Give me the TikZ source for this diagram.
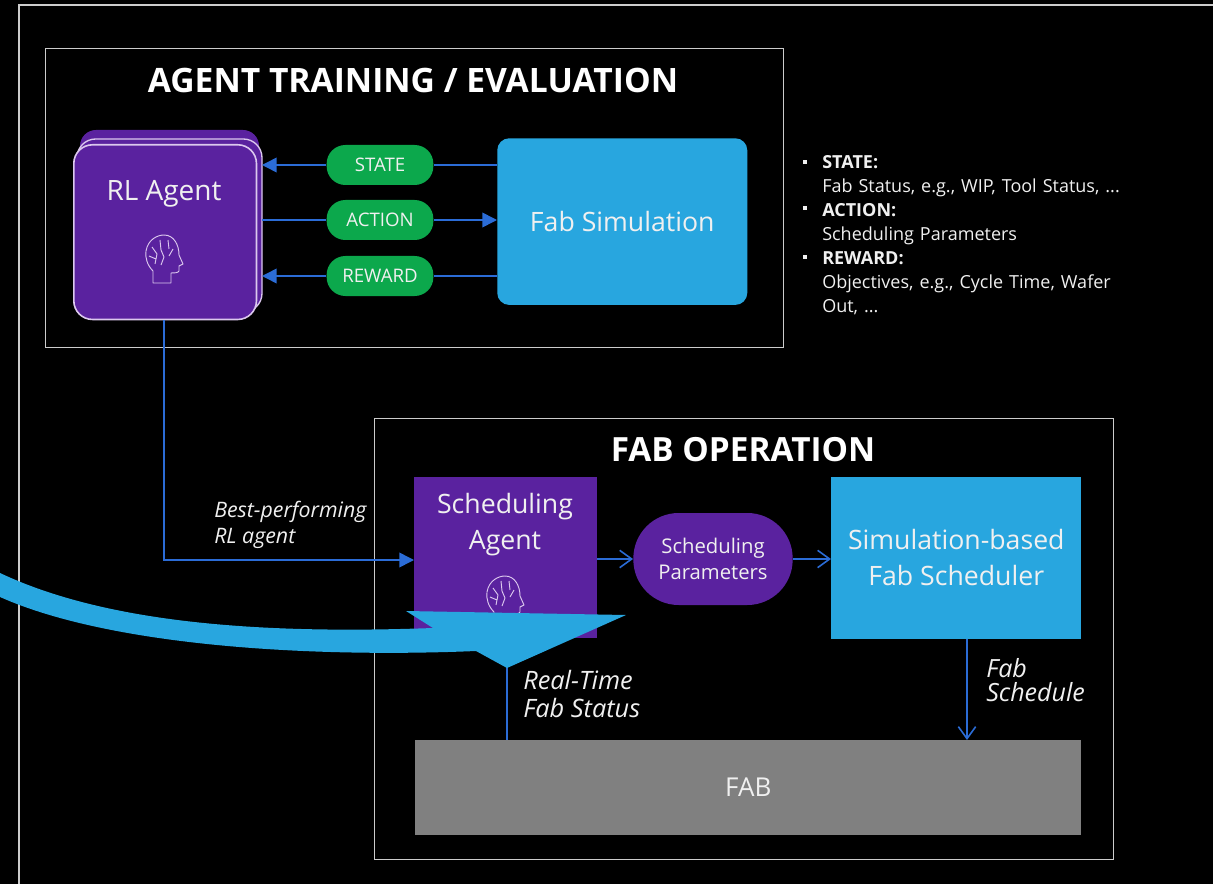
\documentclass[tikz,border=0pt]{standalone}
\usepackage{fontspec}
\setmainfont{Open Sans}
\usetikzlibrary{arrows.meta,positioning}
\definecolor{agentp}{HTML}{5A229F}
\definecolor{simblue}{HTML}{28A6DF}
\definecolor{pillg}{HTML}{0CA84C}
\definecolor{linkb}{HTML}{2B6CD6}
\definecolor{fabg}{HTML}{808080}
\definecolor{lilac}{HTML}{DCC8EE}
\definecolor{txt}{HTML}{F0F0F0}
\newcommand{\fsz}[2]{\fontsize{#1}{#2}\selectfont}
\tikzset{
  x=0.75pt,y=-0.75pt,
  frame/.style={draw=white!80!black,line width=1.1pt,fill=none},
  pill/.style={fill=pillg,rounded corners=14pt,minimum width=80pt,minimum height=30pt,inner sep=0pt,text=txt,font=\fsz{14}{16}},
  solid tip/.style={-{Triangle[length=11pt,width=11pt]}},
  open tip/.style={-{Straight Barb[length=9pt,width=13pt]}},
  link/.style={draw=linkb,line width=1.2pt},
  lbl/.style={text=txt,inner sep=0pt,align=left},
  brain/.style={draw=lilac,line width=0.7pt,line join=round,fill=none},
  bullet/.style={fill=txt,minimum size=3.6pt,inner sep=0pt},
}
\newcommand{\brainicon}[2]{%
  \begin{scope}[shift={(#1,#2)}]
    \draw[brain] (-11,24) -- (-11,12) .. controls (-17,6) and (-19,-2) .. (-18,-8)
      .. controls (-16,-20) and (-6,-24) .. (0,-24) .. controls (10,-24) and (15,-14) .. (15,-4)
      -- (19,5) -- (15,7) -- (15,12) .. controls (14,14) and (10,14) .. (7,14) -- (7,24) -- cycle;
    \draw[brain] (-12,-12) -- (-7,-5) -- (-9,5) (-4,-19) -- (-3,-9) -- (0,-2) -- (-3,6) (4,-19) -- (5,-10) (-15,-3) -- (-8,0) (9,-10) -- (5,-3);
  \end{scope}}
\begin{document}
\begin{tikzpicture}
\useasboundingbox (0,0) rectangle (1213,884);
\fill[black] (0,0) rectangle (1213,884);
% outer frame
\draw[frame] (1213,5) -- (19,5) -- (19,884);
% training panel
\node[frame,minimum width=553.5pt,minimum height=224pt,anchor=north west,inner sep=0pt] (train) at (45,48) {};
\node[text=white,font=\bfseries\fsz{25.2}{28},inner sep=0pt] (traintitle) at (413,80) {AGENT TRAINING / EVALUATION};
% RL agent stack
\path[fill=agentp,rounded corners=12pt] (80,130) rectangle (259,300);
\path[draw=lilac,line width=1pt,fill=agentp,rounded corners=14pt] (77,139) rectangle (262,312);
\node[draw=lilac,line width=1.2pt,fill=agentp,rounded corners=14pt,minimum width=137pt,minimum height=131pt,inner sep=0pt,anchor=north west] (rl) at (73,144) {};
\node[text=txt,font=\fsz{21}{24},inner sep=0pt] (rllabel) at (164,194) {RL Agent};
\brainicon{164}{259}
% simulation
\node[fill=simblue,rounded corners=9pt,minimum width=187.5pt,minimum height=125pt,inner sep=0pt,anchor=north west,text=txt,font=\fsz{20}{24}] (sim) at (497,138) {Fab Simulation};
% pills
\node[pill] (state) at (380,165) {STATE};
\node[pill] (action) at (380,220) {ACTION};
\node[pill] (reward) at (380,276) {REWARD};
\coordinate (simS) at (497,165);
\coordinate (simA) at (497,220);
\coordinate (simR) at (497,276);
\coordinate (rlS) at (262,165);
\coordinate (rlA) at (262,220);
\coordinate (rlR) at (262,276);
\draw[link] (simS) -- (state);
\draw[link,solid tip] (state) -- (rlS);
\draw[link] (rlA) -- (action);
\draw[link,solid tip] (action) -- (simA);
\draw[link] (simR) -- (reward);
\draw[link,solid tip] (reward) -- (rlR);
% legend
\node[text=txt,inner sep=0pt,anchor=north west,align=left,text width=300pt,font=\fsz{13.5}{18}] (legend) at (822,155) {%
  \textbf{STATE:}\\Fab Status, e.g., WIP, Tool Status, ...\\
  \textbf{ACTION:}\\Scheduling Parameters\\
  \textbf{REWARD:}\\Objectives, e.g., Cycle Time, Wafer\\Out, ...};
\node[bullet] (b1) at (805,162) {};
\node[bullet] (b2) at (805,208) {};
\node[bullet] (b3) at (805,257) {};
% operation panel
\node[frame,minimum width=554pt,minimum height=330.5pt,anchor=north west,inner sep=0pt] (op) at (374,418) {};
\node[text=white,font=\bfseries\fsz{25}{28},inner sep=0pt] (optitle) at (743,450) {FAB OPERATION};
\node[fill=agentp,minimum width=137pt,minimum height=120.5pt,anchor=north west,inner sep=0pt] (sched) at (414,477) {};
\node[text=txt,inner sep=0pt,align=center,font=\fsz{20}{27}] (schedl) at (505,525) {Scheduling\\Agent};
\brainicon{505}{600}
\node[fill=agentp,rounded corners=34pt,minimum width=119.5pt,minimum height=69pt,inner sep=0pt,text=txt,align=center,font=\fsz{15.2}{19.5}] (params) at (713,559) {Scheduling\\Parameters};
\node[fill=simblue,minimum width=187.5pt,minimum height=121pt,anchor=north west,inner sep=0pt,text=txt,align=center,font=\fsz{20}{27}] (fs) at (831,477) {Simulation-based\\Fab Scheduler};
\node[fill=fabg,minimum width=499.5pt,minimum height=71pt,anchor=north west,inner sep=0pt,text=txt,font=\fsz{19.5}{24}] (fab) at (415,740) {FAB};
\coordinate (bendA) at (164,560);
\draw[link,solid tip] (rl.south -| bendA) -- (bendA) -- (sched.west |- bendA);
\draw[link,open tip] (sched.east |- params) -- (params.west);
\draw[link,open tip] (params.east) -- (fs.west |- params);
\coordinate (fsS) at (967,638);
\draw[link,open tip] (fs.south -| fsS) -- (fab.north -| fsS);
\coordinate (fabU) at (507,740);
\coordinate (fabT) at (507,660);
\draw[link] (fabU) -- (fabT);
\node[lbl,anchor=west,font=\itshape\fsz{16}{19.5}] (bp) at (214,525) {Best-performing\\RL agent};
\node[lbl,anchor=west,font=\itshape\fsz{19}{21}] (rt) at (523,694) {Real-Time\\Fab Status};
\node[lbl,anchor=west,font=\itshape\fsz{18.8}{18}] (fss) at (986,680) {Fab\\Schedule};
% big curved arrow
\path[fill=simblue] (0,573) .. controls (110,625) and (270,634) .. (433,628)
  -- (406,611) -- (626,615) -- (507,668) -- (476,651)
  .. controls (310,658) and (110,646) .. (0,597) -- cycle;
\end{tikzpicture}
\end{document}
